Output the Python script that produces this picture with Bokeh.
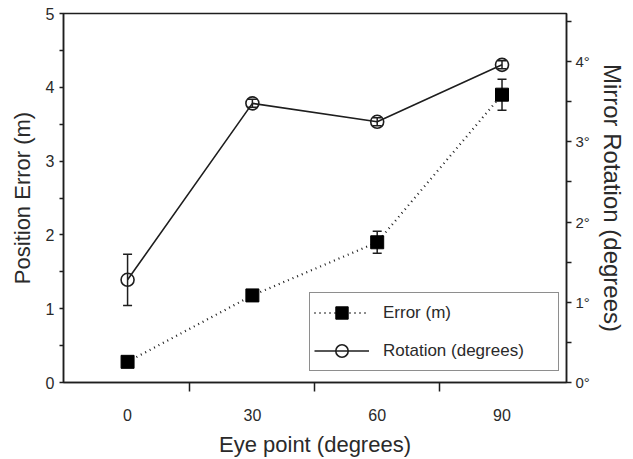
from bokeh.plotting import figure
from bokeh.models import (Range1d, LinearAxis, FixedTicker, Whisker, ColumnDataSource,
                          Legend, LegendItem, TeeHead, PrintfTickFormatter)
from bokeh.embed import file_html
from bokeh.resources import INLINE

# ---- data ----
eye_points = [0, 30, 60, 90]
error_m = [0.28, 1.18, 1.90, 3.90]
error_sd = [0.05, 0.07, 0.15, 0.21]
rotation_deg = [1.28, 3.48, 3.25, 3.96]
rotation_sd = [0.32, 0.05, 0.05, 0.05]
x_tick_labels = [0, 30, 60, 90]
x_tick_marks = [15, 45, 75]
left_ticks = [0, 1, 2, 3, 4, 5]
left_minor = [0.5, 1.5, 2.5, 3.5, 4.5]
right_ticks = [0, 1, 2, 3, 4]
right_minor = [0.5, 1.5, 2.5, 3.5, 4.5]

FONT = "Liberation Sans"
INK = "#1e1e1e"
TXT = "#2a2a2a"

err_src = ColumnDataSource(dict(
    x=eye_points, y=error_m,
    lo=[v - s for v, s in zip(error_m, error_sd)],
    hi=[v + s for v, s in zip(error_m, error_sd)]))
rot_src = ColumnDataSource(dict(
    x=eye_points, y=rotation_deg,
    lo=[v - s for v, s in zip(rotation_deg, rotation_sd)],
    hi=[v + s for v, s in zip(rotation_deg, rotation_sd)]))

p = figure(width=633, height=459, output_backend="svg", toolbar_location=None,
           x_range=Range1d(-15.4, 105.5), y_range=Range1d(0, 5),
           min_border_left=63, min_border_right=67, min_border_top=13, min_border_bottom=72)
p.extra_y_ranges = {"rot": Range1d(0, 4.6)}
p.grid.visible = False
p.outline_line_color = INK
p.outline_line_width = 1.5
p.background_fill_color = "white"
p.border_fill_color = "white"

# x axis
xa = p.xaxis[0]
xa.ticker = FixedTicker(ticks=x_tick_labels, minor_ticks=x_tick_marks)
xa.major_tick_out = 0
xa.major_tick_in = 0
xa.minor_tick_out = 9
xa.minor_tick_in = 0
xa.major_label_standoff = 17
xa.axis_label = "Eye point (degrees)"
xa.axis_label_standoff = 8

# left axis
ya = p.yaxis[0]
ya.ticker = FixedTicker(ticks=left_ticks, minor_ticks=left_minor)
ya.major_tick_out = 4
ya.major_tick_in = 0
ya.minor_tick_out = 4
ya.minor_tick_in = 0
ya.major_label_standoff = 5
ya.axis_label = "Position Error (m)"
ya.axis_label_standoff = 8

# right axis
ra = LinearAxis(y_range_name="rot",
                ticker=FixedTicker(ticks=right_ticks, minor_ticks=right_minor),
                formatter=PrintfTickFormatter(format="%d°"))
ra.major_tick_out = 5
ra.major_tick_in = 0
ra.minor_tick_out = 5
ra.minor_tick_in = 0
ra.major_label_standoff = 4
ra.axis_label = "Mirror Rotation (degrees)"
ra.axis_label_standoff = 6
p.add_layout(ra, "right")

for ax in (xa, ya, ra):
    ax.axis_line_color = INK
    ax.axis_line_width = 1.5
    ax.major_tick_line_color = INK
    ax.major_tick_line_width = 1.5
    ax.minor_tick_line_color = INK
    ax.minor_tick_line_width = 1.5
    ax.major_label_text_font = FONT
    ax.major_label_text_font_size = "16px"
    ax.major_label_text_color = TXT
    ax.axis_label_text_font = FONT
    ax.axis_label_text_font_size = "22px"
    ax.axis_label_text_font_style = "normal"
    ax.axis_label_text_color = TXT
ra.axis_label_text_font_size = "24px"
ra.major_label_text_font_size = "15px"

# error bars
p.add_layout(Whisker(source=err_src, base="x", upper="hi", lower="lo", dimension="height",
                     line_color=INK, line_width=1.5,
                     upper_head=TeeHead(size=9, line_color=INK, line_width=1.5),
                     lower_head=TeeHead(size=9, line_color=INK, line_width=1.5)))
p.add_layout(Whisker(source=rot_src, base="x", upper="hi", lower="lo", dimension="height",
                     y_range_name="rot",
                     line_color=INK, line_width=1.5,
                     upper_head=TeeHead(size=9, line_color=INK, line_width=1.5),
                     lower_head=TeeHead(size=9, line_color=INK, line_width=1.5)))

# series
err_line = p.line("x", "y", source=err_src, line_color=INK, line_width=2.2, line_dash="1 4")
err_pts = p.scatter("x", "y", source=err_src, marker="square", size=13,
                    fill_color="black", line_color="black")
rot_line = p.line("x", "y", source=rot_src, y_range_name="rot", line_color=INK, line_width=1.6)
rot_pts = p.scatter("x", "y", source=rot_src, y_range_name="rot", marker="circle", size=13,
                    fill_alpha=0, line_color=INK, line_width=1.6)

legend = Legend(items=[LegendItem(label="Error (m)", renderers=[err_line, err_pts]),
                       LegendItem(label="Rotation (degrees)", renderers=[rot_line, rot_pts])],
                location=(246, 11))
legend.glyph_width = 55
legend.glyph_height = 31
legend.label_height = 20
legend.label_standoff = 14
legend.label_width = 171
legend.padding = 4
legend.spacing = 7
legend.margin = 0
legend.border_line_color = INK
legend.border_line_width = 1.5
legend.background_fill_color = "white"
legend.background_fill_alpha = 1
legend.label_text_font = FONT
legend.label_text_font_size = "17px"
legend.label_text_color = TXT
p.add_layout(legend)

open("out.html", "w").write(file_html(p, INLINE))
